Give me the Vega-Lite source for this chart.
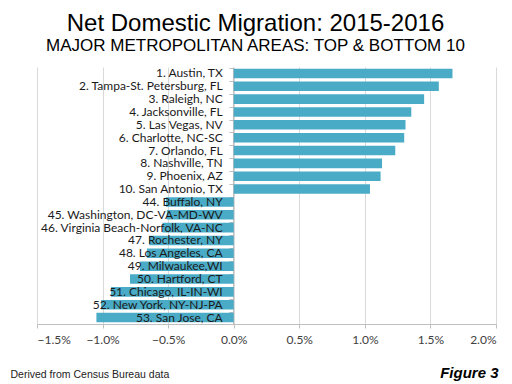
{
  "$schema": "https://vega.github.io/schema/vega-lite/v6.json",
  "autosize": "none",
  "width": 459,
  "height": 257,
  "padding": {"left": 37, "top": 67, "right": 16, "bottom": 60},
  "background": "white",
  "title": {
    "text": "Net Domestic Migration: 2015-2016",
    "subtitle": "MAJOR METROPOLITAN AREAS: TOP & BOTTOM 10",
    "font": "Liberation Sans",
    "fontSize": 24,
    "fontWeight": "normal",
    "color": "#000000",
    "subtitleFont": "Liberation Sans",
    "subtitleFontSize": 17,
    "subtitleColor": "#000000",
    "subtitlePadding": 2,
    "anchor": "middle",
    "frame": "group",
    "dx": -11,
    "offset": 13
  },
  "config": {"view": {"stroke": null}},
  "data": {
    "values": [
      {"name": "1. Austin, TX", "value": 0.01668, "rank": 1},
      {"name": "2. Tampa-St. Petersburg, FL", "value": 0.01564, "rank": 2},
      {"name": "3. Raleigh, NC", "value": 0.01452, "rank": 3},
      {"name": "4. Jacksonville, FL", "value": 0.01354, "rank": 4},
      {"name": "5. Las Vegas, NV", "value": 0.0131, "rank": 5},
      {"name": "6. Charlotte, NC-SC", "value": 0.013, "rank": 6},
      {"name": "7. Orlando, FL", "value": 0.01232, "rank": 7},
      {"name": "8. Nashville, TN", "value": 0.01131, "rank": 8},
      {"name": "9. Phoenix, AZ", "value": 0.0112, "rank": 9},
      {"name": "10. San Antonio, TX", "value": 0.01039, "rank": 10},
      {"name": "44. Buffalo, NY", "value": -0.00517, "rank": 44},
      {"name": "45. Washington, DC-VA-MD-WV", "value": -0.0051, "rank": 45},
      {"name": "46. Virginia Beach-Norfolk, VA-NC", "value": -0.00543, "rank": 46},
      {"name": "47. Rochester, NY", "value": -0.00644, "rank": 47},
      {"name": "48. Los Angeles, CA", "value": -0.00662, "rank": 48},
      {"name": "49. Milwaukee,WI", "value": -0.00715, "rank": 49},
      {"name": "50. Hartford, CT", "value": -0.00791, "rank": 50},
      {"name": "51. Chicago, IL-IN-WI", "value": -0.00935, "rank": 51},
      {"name": "52. New York, NY-NJ-PA", "value": -0.01011, "rank": 52},
      {"name": "53. San Jose, CA", "value": -0.01047, "rank": 53}
    ]
  },
  "encoding": {
    "y": {
      "field": "name",
      "type": "nominal",
      "sort": {"field": "rank", "order": "ascending"},
      "scale": {"paddingInner": 0.26, "paddingOuter": 0.13}
    }
  },
  "resolve": {"axis": {"y": "independent"}},
  "layer": [
    {
      "mark": {"type": "bar", "color": "#4aabc7"},
      "encoding": {
        "x": {
          "field": "value",
          "type": "quantitative",
          "scale": {"domain": [-0.015, 0.02], "nice": false},
          "axis": {
            "values": [-0.015, -0.01, -0.005, 0, 0.005, 0.01, 0.015, 0.02],
            "format": ".1%",
            "grid": true,
            "gridColor": "#d9d9d9",
            "domainColor": "#bfbfbf",
            "tickColor": "#bfbfbf",
            "tickSize": 4,
            "labelFont": "Lato",
            "labelFontSize": 12,
            "labelColor": "#404040",
            "labelPadding": 6,
            "title": "Derived from Census Bureau data",
            "titleFont": "Liberation Sans",
            "titleFontSize": 10.5,
            "titleFontWeight": "normal",
            "titleColor": "#222222",
            "titleAlign": "left",
            "titleAnchor": "start",
            "titleBaseline": "alphabetic",
            "titleX": -27,
            "titleY": 53
          }
        },
        "y": {
          "field": "name",
          "type": "nominal",
          "sort": {"field": "rank", "order": "ascending"},
          "axis": {
            "orient": "left",
            "offset": -196,
            "labels": false,
            "title": null,
            "domainColor": "#bfbfbf",
            "tickColor": "#bfbfbf",
            "tickSize": 4,
            "bandPosition": 0,
            "grid": false
          }
        }
      }
    },
    {
      "mark": {
        "type": "text",
        "align": "right",
        "baseline": "middle",
        "dx": -11,
        "font": "Lato",
        "fontSize": 12,
        "color": "#1a1a1a"
      },
      "encoding": {
        "x": {"datum": 0, "type": "quantitative"},
        "text": {"field": "name"},
        "y": {
          "field": "name",
          "type": "nominal",
          "sort": {"field": "rank", "order": "ascending"},
          "axis": {
            "orient": "right",
            "labels": false,
            "ticks": false,
            "domain": false,
            "grid": false,
            "title": "Figure 3",
            "titleAngle": 0,
            "titleFont": "Liberation Sans",
            "titleFontSize": 15,
            "titleFontStyle": "italic",
            "titleFontWeight": "bold",
            "titleColor": "#000000",
            "titleAlign": "right",
            "titleBaseline": "alphabetic",
            "titleX": 2,
            "titleY": 310
          }
        }
      }
    }
  ]
}
